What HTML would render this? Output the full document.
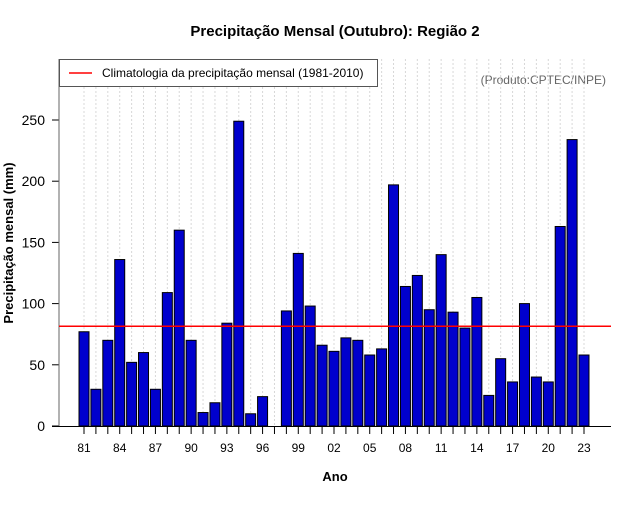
<!DOCTYPE html>
<html><head><meta charset="utf-8"><style>
body{margin:0;background:#fff;font-family:"Liberation Sans",sans-serif}
svg text{font-family:"Liberation Sans",sans-serif}
</style></head><body>
<svg id="chart" width="640" height="500" xmlns="http://www.w3.org/2000/svg">
<text x="335" y="36" text-anchor="middle" font-size="15" font-weight="bold">Precipitação Mensal (Outubro): Região 2</text>
<text transform="translate(13,243) rotate(-90)" text-anchor="middle" font-size="13" font-weight="bold">Precipitação mensal (mm)</text>
<text x="335" y="481" text-anchor="middle" font-size="13" font-weight="bold">Ano</text>
<text x="606" y="84" text-anchor="end" font-size="12" fill="#666">(Produto:CPTEC/INPE)</text>
<g id="grid"></g><g id="bars"></g><g id="axes"></g>
<line x1="59" y1="59" x2="59" y2="426" stroke="#666" stroke-width="1"/>
<line x1="52" y1="426.5" x2="611" y2="426.5" stroke="#000" stroke-width="1"/>
<line id="clim" x1="59" x2="611" stroke="#f00" stroke-width="1.5"/>
<g>
<rect x="59.5" y="59.5" width="318" height="27" fill="#fff" stroke="#555"/>
<line x1="69" y1="73" x2="92" y2="73" stroke="#f00" stroke-width="1.5"/>
<text x="102" y="77" font-size="12">Climatologia da precipitação mensal (1981-2010)</text>
</g>
</svg>
<script>
const years=[81,82,83,84,85,86,87,88,89,90,91,92,93,94,95,96,97,98,99,0,1,2,3,4,5,6,7,8,9,10,11,12,13,14,15,16,17,18,19,20,21,22,23];
const values=[77,30,70,136,52,60,30,109,160,70,11,19,84,249,10,24,null,94,141,98,66,61,72,70,58,63,197,114,123,95,140,93,80,105,25,55,36,100,40,36,163,234,58];
const climatology=81.5;
const yTicks=[0,50,100,150,200,250];
const xLabelEvery=3;
const NS="http://www.w3.org/2000/svg";
const x=i=>84+i*(500/42);
const y=v=>426-v*1.224;
const grid=document.getElementById('grid'),bars=document.getElementById('bars'),axes=document.getElementById('axes');
function mk(tag,attrs,parent){const e=document.createElementNS(NS,tag);for(const k in attrs)e.setAttribute(k,attrs[k]);parent.appendChild(e);return e;}
years.forEach((yr,i)=>{
  const g=mk('line',{x1:x(i),x2:x(i),y1:59,y2:426,stroke:'#d8d8d8','stroke-dasharray':'2,2'},grid);
  
  
  const t=mk('line',{x1:x(i),x2:x(i),y1:427,y2:434,stroke:'#000'},axes);
  
  
  if(i%xLabelEvery===0){
    const l=mk('text',{x:x(i),y:452,'text-anchor':'middle','font-size':'12'},axes);
    l.textContent=String(yr).padStart(2,'0');
    
    
  }
  if(values[i]!=null){
    const r=mk('rect',{x:x(i)-5,y:y(values[i]),width:10,height:426-y(values[i]),fill:'#0000cd',stroke:'#000','stroke-width':1},bars);
    
    
  }
});
yTicks.forEach(v=>{
  const t=mk('line',{x1:52,x2:59,y1:y(v),y2:y(v),stroke:'#000'},axes);
  
  
  const l=mk('text',{x:45,y:y(v)+5,'text-anchor':'end','font-size':'14'},axes);
  l.textContent=v;
  
  
});
const c=document.getElementById('clim');c.setAttribute('y1',y(climatology));c.setAttribute('y2',y(climatology));
</script>
</body></html>
